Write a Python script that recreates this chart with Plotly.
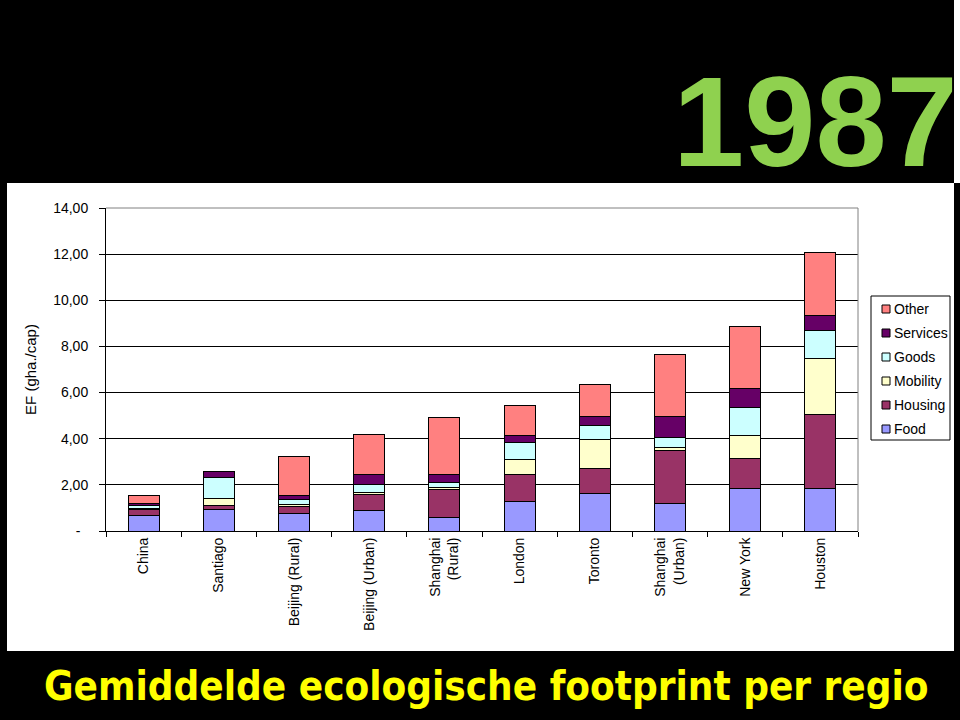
import plotly.graph_objects as go

categories = ["China", "Santiago", "Beijing (Rural)", "Beijing (Urban)", "Shanghai<br>(Rural)",
              "London", "Toronto", "Shanghai<br>(Urban)", "New York", "Houston"]

food     = [0.69, 0.94, 0.74, 0.88, 0.59, 1.27, 1.62, 1.20, 1.85, 1.85]
housing  = [0.25, 0.17, 0.34, 0.72, 1.23, 1.19, 1.10, 2.28, 1.30, 3.22]
mobility = [0.04, 0.32, 0.09, 0.05, 0.05, 0.65, 1.25, 0.15, 0.97, 2.39]
goods    = [0.14, 0.88, 0.20, 0.37, 0.24, 0.72, 0.62, 0.43, 1.22, 1.21]
services = [0.06, 0.26, 0.15, 0.41, 0.32, 0.33, 0.36, 0.89, 0.85, 0.69]
other    = [0.36, 0.00, 1.73, 1.74, 2.48, 1.27, 1.42, 2.71, 2.68, 2.73]

series_names = ["Food", "Housing", "Mobility", "Goods", "Services", "Other"]
series_values = [food, housing, mobility, goods, services, other]
series_colors = ["#9999FF", "#993366", "#FFFFCC", "#CCFFFF", "#660066", "#FF8080"]

y_tickvals = [0, 2, 4, 6, 8, 10, 12, 14]
y_ticktext = ["-\u00a0\u00a0", "2,00", "4,00", "6,00", "8,00", "10,00", "12,00", "14,00"]

FONT = "Liberation Sans, Arial, sans-serif"

# plot area in pixels (layout only)
L, R, T, B = 106, 858, 208, 531
W, H = 960, 720


def px(x):
    return (x - L) / (R - L)


def py(y):
    return (B - y) / (B - T)


fig = go.Figure()
for name, vals, col in zip(series_names, series_values, series_colors):
    fig.add_trace(go.Bar(
        name=name, x=categories, y=vals,
        marker=dict(color=col, line=dict(color="black", width=1)),
        showlegend=False,
    ))

shapes = [
    dict(type="rect", xref="paper", yref="paper", x0=px(7), x1=px(954), y0=py(651), y1=py(183),
         fillcolor="white", line=dict(width=0), layer="below"),
    dict(type="rect", xref="paper", yref="paper", x0=px(954), x1=px(962), y0=py(183), y1=py(-2),
         fillcolor="white", line=dict(width=0), layer="below"),
    dict(type="line", xref="paper", yref="paper", x0=0, x1=1, y0=1, y1=1,
         line=dict(color="#808080", width=1)),
    dict(type="line", xref="paper", yref="paper", x0=1, x1=1, y0=0, y1=1,
         line=dict(color="#808080", width=1)),
    # legend box
    dict(type="rect", xref="paper", yref="paper", x0=px(871), x1=px(950), y0=py(440), y1=py(296),
         fillcolor="white", line=dict(color="black", width=1)),
]

annotations = [
    dict(text="<b>1987</b>", xref="paper", yref="paper", x=px(815), y=py(121),
         xanchor="center", yanchor="middle", showarrow=False,
         font=dict(family=FONT, size=128, color="#8fd14f")),
    dict(text="<b>Gemiddelde ecologische footprint per regio</b>", xref="paper", yref="paper",
         x=px(486), y=py(686), xanchor="center", yanchor="middle", showarrow=False,
         font=dict(family="DejaVu Sans Condensed, sans-serif", size=40, color="#FFFF00")),
]

# custom legend (top entry = last series)
for i, (name, col) in enumerate(reversed(list(zip(series_names, series_colors)))):
    cy = 309 + 24 * i
    shapes.append(dict(type="rect", xref="paper", yref="paper",
                       x0=px(882), x1=px(890), y0=py(cy + 4), y1=py(cy - 4),
                       fillcolor=col, line=dict(color="black", width=1)))
    annotations.append(dict(text=name, xref="paper", yref="paper", x=px(892), y=py(cy),
                            xanchor="left", yanchor="middle", showarrow=False,
                            font=dict(family=FONT, size=14, color="black")))

fig.update_layout(
    width=W, height=H,
    margin=dict(l=L, r=W - R, t=T, b=H - B, autoexpand=False),
    paper_bgcolor="black",
    plot_bgcolor="white",
    barmode="stack",
    bargap=0.588,
    font=dict(family=FONT, color="black", size=13),
    showlegend=False,
    xaxis=dict(
        showline=True, linecolor="black", linewidth=1,
        ticks="outside", ticklen=5, tickcolor="black", tickson="boundaries",
        tickangle=-90, tickfont=dict(size=14, color="black"),
        showgrid=False,
    ),
    yaxis=dict(
        range=[0, 14], tickvals=y_tickvals, ticktext=y_ticktext,
        showline=True, linecolor="black", linewidth=1,
        ticks="outside", ticklen=6, tickcolor="black",
        gridcolor="black", gridwidth=1,
        tickfont=dict(size=14, color="black"),
        ticklabelstandoff=8,
        title=dict(text="EF (gha./cap)", font=dict(size=15, color="black"), standoff=12),
        zeroline=False,
    ),
    shapes=shapes,
    annotations=annotations,
)

fig.write_html("out.html")
